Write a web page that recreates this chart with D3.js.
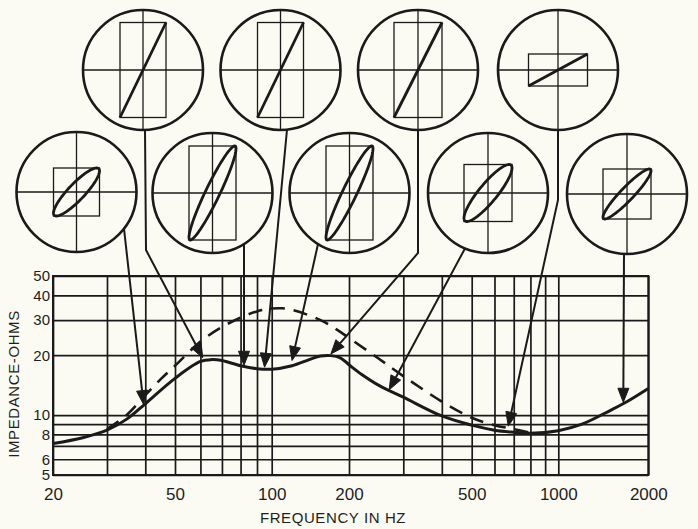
<!DOCTYPE html>
<html>
<head>
<meta charset="utf-8">
<script src="https://cdn.jsdelivr.net/npm/d3@7"></script>
<style>
  html, body { margin: 0; padding: 0; background: #fbfbf3; }
  svg { display: block; }
  text { font-family: "Liberation Sans", Arial, sans-serif; fill: #1e1e1e; }
</style>
</head>
<body>
<svg id="chart" width="698" height="529"></svg>
<script>
// ---------------- DATA ----------------
// Solid impedance curve
const solidFreq = [20, 25, 30, 35, 40, 50, 60, 65, 70, 80, 90, 100, 120, 140, 155, 170, 185, 200, 220, 250, 300, 400, 500, 600, 700, 800, 1000, 1200, 1500, 1700, 2000];
const solidOhms = [7.2, 7.7, 8.4, 9.6, 11.4, 15.3, 18.6, 19.0, 18.8, 17.7, 17.1, 17.0, 17.7, 19.0, 19.8, 19.9, 19.4, 17.9, 16.0, 14.1, 12.3, 9.9, 8.9, 8.4, 8.2, 8.1, 8.35, 9.0, 10.6, 11.7, 13.6];
// Dashed impedance curve
const dashFreq = [30, 35, 40, 45, 50, 60, 70, 80, 90, 100, 110, 120, 140, 160, 180, 200, 250, 300, 400, 500, 600, 700, 800];
const dashOhms = [8.5, 10.1, 12.6, 15.2, 17.7, 23.4, 27.7, 30.9, 33.2, 34.3, 34.4, 33.8, 31.7, 29.4, 26.8, 24.4, 19.2, 15.7, 11.7, 9.7, 8.9, 8.5, 8.15];
// Axis ticks / grid
const xGrid = [20, 30, 40, 50, 60, 70, 80, 90, 100, 200, 300, 400, 500, 600, 700, 800, 900, 1000, 2000];
const xTickLabels = [20, 50, 100, 200, 500, 1000, 2000];
const yGrid = [5, 6, 7, 8, 9, 10, 20, 30, 40, 50];
const yTickLabels = [5, 6, 8, 10, 20, 30, 40, 50];
// Scope-pattern call-outs: point on the curve each one marks
const scopeFreq = [39.5, 61, 82, 95, 120, 170, 270, 670, 1650];
const scopeOhms = [11.3, 19.4, 17.8, 17.4, 18.8, 20.3, 13.4, 8.8, 11.6];

// ---------------- LAYOUT ----------------
const W = 698, H = 529;
const plot = { left: 53, right: 648.3, top: 276, bottom: 475 };
const ink = "#1a1a1a";

const svg = d3.select("#chart");
svg.append("rect").attr("width", W).attr("height", H).attr("fill", "#fbfbf3");

// hand-drawn log grid: piecewise log scale through the labelled decades
const x = d3.scaleLog()
  .domain([20, 50, 100, 200, 500, 1000, 2000])
  .range([53, 175, 271.7, 349, 471.7, 558.3, 648.3]);
const y = d3.scaleLog().domain([5, 50]).range([plot.bottom, plot.top]);

// x grid + labels
const gx = svg.append("g")
  .attr("transform", `translate(0,${plot.bottom})`)
  .call(d3.axisBottom(x)
    .tickValues(xGrid)
    .tickSize(-(plot.bottom - plot.top))
    .tickPadding(13)
    .tickFormat(d => xTickLabels.includes(d) ? String(d) : ""));
gx.select(".domain").remove();
gx.selectAll(".tick line").attr("stroke", ink).attr("stroke-width", 1.7);
gx.selectAll(".tick text").attr("font-size", 17).style("font-family", "'Liberation Sans', Arial, sans-serif").attr("fill", "#1e1e1e");

// y grid + labels
const gy = svg.append("g")
  .attr("transform", `translate(${plot.left},0)`)
  .call(d3.axisLeft(y)
    .tickValues(yGrid)
    .tickSize(-(plot.right - plot.left))
    .tickPadding(3)
    .tickFormat(d => yTickLabels.includes(d) ? String(d) : ""));
gy.select(".domain").remove();
gy.selectAll(".tick line").attr("stroke", ink).attr("stroke-width", 1.7);
gy.selectAll(".tick text").attr("font-size", 15).style("font-family", "'Liberation Sans', Arial, sans-serif").attr("fill", "#1e1e1e");

// frame
svg.append("rect")
  .attr("x", plot.left).attr("y", plot.top)
  .attr("width", plot.right - plot.left).attr("height", plot.bottom - plot.top)
  .attr("fill", "none").attr("stroke", ink).attr("stroke-width", 2);

// axis titles
svg.append("text")
  .attr("x", 333).attr("y", 523)
  .attr("text-anchor", "middle").attr("font-size", 15).attr("letter-spacing", 0.6)
  .text("FREQUENCY IN HZ");
svg.append("text")
  .attr("transform", "translate(19,384) rotate(-90)")
  .attr("text-anchor", "middle").attr("font-size", 15).attr("letter-spacing", 0.6)
  .text("IMPEDANCE-OHMS");

// curves
const line = d3.line().x(d => x(d[0])).y(d => y(d[1])).curve(d3.curveCatmullRom.alpha(0.5));
svg.append("path")
  .attr("d", line(d3.zip(dashFreq, dashOhms)))
  .attr("fill", "none").attr("stroke", ink).attr("stroke-width", 2.6)
  .attr("stroke-dasharray", "14,9");
svg.append("path")
  .attr("d", line(d3.zip(solidFreq, solidOhms)))
  .attr("fill", "none").attr("stroke", ink).attr("stroke-width", 3);

// ---------------- SCOPE CIRCLES ----------------
const R = 60;
// order matches scopeFreq: lowA, top1, lowB, top2, lowC, top3, lowD, top4, lowE
const scopes = [
  { cx: 76.5, cy: 192, kind: "ellipse", hw: 23, hh: 24, phi: 0.5, sdx: 47.5, bend: null },
  { cx: 143,  cy: 70,  kind: "line",    hw: 23, hh: 47.5, sdx: 2, bend: [146, 250] },
  { cx: 212.5,cy: 193, kind: "ellipse", hw: 23.5, hh: 47, phi: 0.34, sdx: 31.5, bend: null },
  { cx: 280.5,cy: 70,  kind: "line",    hw: 23, hh: 47.5, sdx: 6.5, bend: null },
  { cx: 349.5,cy: 193, kind: "ellipse", hw: 23.5, hh: 47, phi: 0.34, sdx: -31.5, bend: null },
  { cx: 418,  cy: 70,  kind: "line",    hw: 24, hh: 47.5, sdx: 0, bend: [418, 253] },
  { cx: 488,  cy: 193, kind: "ellipse", hw: 24, hh: 28.5, phi: 0.5, sdx: -23, bend: null },
  { cx: 558,  cy: 70,  kind: "line",    hw: 29.5, hh: 16, sdx: 0, bend: [558, 200] },
  { cx: 627,  cy: 194, kind: "ellipse", hw: 24, hh: 25, phi: 0.38, sdx: -3, bend: null }
];

scopes.forEach((s, i) => {
  const g = svg.append("g").attr("transform", `translate(${s.cx},${s.cy})`);
  g.append("circle").attr("r", R).attr("fill", "#fbfbf3").attr("stroke", ink).attr("stroke-width", 2.6);
  g.append("line").attr("x1", -R).attr("x2", R).attr("y1", 0).attr("y2", 0).attr("stroke", ink).attr("stroke-width", 1.3);
  g.append("line").attr("y1", -R).attr("y2", R).attr("x1", 0).attr("x2", 0).attr("stroke", ink).attr("stroke-width", 1.3);
  g.append("rect").attr("x", -s.hw).attr("y", -s.hh).attr("width", 2 * s.hw).attr("height", 2 * s.hh)
    .attr("fill", "none").attr("stroke", ink).attr("stroke-width", 1.3);
  if (s.kind === "line") {
    g.append("line").attr("x1", -s.hw).attr("y1", s.hh).attr("x2", s.hw).attr("y2", -s.hh)
      .attr("stroke", ink).attr("stroke-width", 2.8);
  } else {
    const pts = d3.range(0, 2 * Math.PI + 0.01, Math.PI / 60).map(t => [s.hw * Math.sin(t), -s.hh * Math.sin(t + s.phi)]);
    g.append("path").attr("d", d3.line()(pts) + "Z").attr("fill", "none").attr("stroke", ink).attr("stroke-width", 2.8);
  }

  // leader line with arrowhead to the curve
  const sx = s.cx + s.sdx, sy = s.cy + Math.sqrt(R * R - s.sdx * s.sdx);
  const tx = x(scopeFreq[i]), ty = y(scopeOhms[i]);
  const pts = [[sx, sy]];
  if (s.bend) pts.push(s.bend);
  pts.push([tx, ty]);
  const prev = pts[pts.length - 2];
  const ang = Math.atan2(ty - prev[1], tx - prev[0]);
  const L = 14, hwid = 5.5;
  const bx = tx - L * Math.cos(ang), by = ty - L * Math.sin(ang);
  const shaft = pts.slice(0, -1).concat([[bx, by]]);
  svg.append("path").attr("d", d3.line()(shaft)).attr("fill", "none").attr("stroke", ink).attr("stroke-width", 2);
  const head = [
    [tx, ty],
    [bx + hwid * Math.sin(ang), by - hwid * Math.cos(ang)],
    [bx - hwid * Math.sin(ang), by + hwid * Math.cos(ang)]
  ];
  svg.append("path").attr("d", d3.line()(head) + "Z").attr("fill", ink).attr("stroke", ink).attr("stroke-width", 1);
});
</script>
</body>
</html>
